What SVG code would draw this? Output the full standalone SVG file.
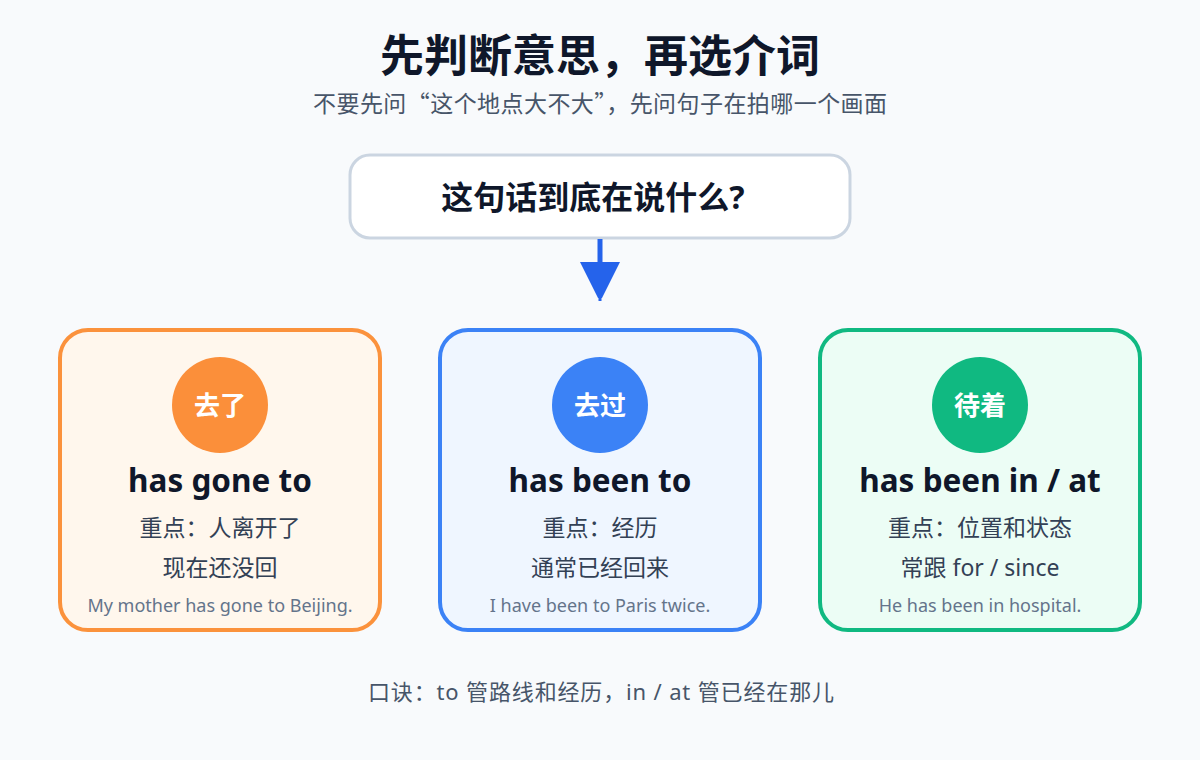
<svg xmlns="http://www.w3.org/2000/svg" width="1200" height="760" viewBox="0 0 1200 760">
<defs>
<style>
text{font-family:"Noto Sans","Noto Sans CJK SC",sans-serif;text-anchor:middle}
.cjk{font-family:"Noto Sans CJK SC","Noto Sans",sans-serif}
.title{font-size:44px;font-weight:700;fill:#0f172a}
.sub{font-size:23px;fill:#475569}
.q{font-size:32px;font-weight:700;fill:#0f172a}
.badge{font-size:26px;font-weight:700;fill:#ffffff}
.head{font-size:31.5px;font-weight:700;fill:#0f172a}
.body{font-size:23px;fill:#334155}
.ex{font-size:18px;fill:#64748b}
.foot{font-size:22px;fill:#475569}
.card{stroke-width:4}
</style>
</defs>
<rect width="1200" height="760" fill="#f8fafc"/>
<g id="header">
<text class="title" x="600" y="72">先判断意思，再选介词</text>
<text class="sub cjk" x="600" y="112" textLength="574" lengthAdjust="spacing">不要先问“这个地点大不大”，先问句子在拍哪一个画面</text>
</g>
<g id="question">
<rect x="350" y="155" width="500" height="83" rx="20" fill="#ffffff" stroke="#cbd5e1" stroke-width="3"/>
<text class="q" x="593" y="209">这句话到底在说什么?</text>
</g>
<g id="connectors">
<line x1="600" y1="239" x2="600" y2="266" stroke="#2563eb" stroke-width="5"/>
<polygon points="580,262 620,262 602,298 598,298" fill="#2563eb"/>
<line x1="600" y1="290" x2="600" y2="301" stroke="#2563eb" stroke-width="3"/>
</g>
<g id="card-gone">
<rect class="card" x="60" y="330" width="320" height="300" rx="28" fill="#fff7ed" stroke="#fb923c"/>
<circle cx="220" cy="405" r="48" fill="#fb8f3a"/>
<text class="badge" x="220" y="415">去了</text>
<text class="head" x="220" y="492">has gone to</text>
<text class="body" x="220" y="536">重点：人离开了</text>
<text class="body" x="220" y="576">现在还没回</text>
<text class="ex" x="220" y="612">My mother has gone to Beijing.</text>
</g>
<g id="card-been">
<rect class="card" x="440" y="330" width="320" height="300" rx="28" fill="#eff6ff" stroke="#3b82f6"/>
<circle cx="600" cy="405" r="48" fill="#3b82f6"/>
<text class="badge" x="600" y="415">去过</text>
<text class="head" x="600" y="492">has been to</text>
<text class="body" x="600" y="536">重点：经历</text>
<text class="body" x="600" y="576">通常已经回来</text>
<text class="ex" x="600" y="612">I have been to Paris twice.</text>
</g>
<g id="card-in">
<rect class="card" x="820" y="330" width="320" height="300" rx="28" fill="#ecfdf5" stroke="#10b981"/>
<circle cx="980" cy="405" r="48" fill="#10b981"/>
<text class="badge" x="980" y="415">待着</text>
<text class="head" x="980" y="492">has been in / at</text>
<text class="body" x="980" y="536">重点：位置和状态</text>
<text class="body" x="980" y="576">常跟 for / since</text>
<text class="ex" x="980" y="612">He has been in hospital.</text>
</g>
<g id="footer">
<text class="foot" x="601" y="700" textLength="466" lengthAdjust="spacing">口诀：to 管路线和经历，in / at 管已经在那儿</text>
</g>
</svg>
